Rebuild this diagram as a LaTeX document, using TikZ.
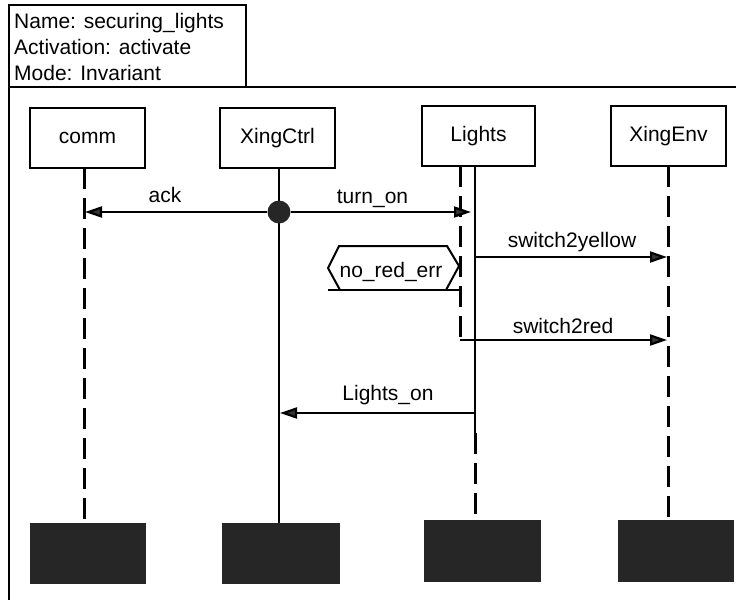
\documentclass[tikz,border=0pt]{standalone}
\usepackage{fontspec}
\setmainfont{Liberation Sans}
\usetikzlibrary{arrows.meta}

\tikzset{
  lifebox/.style={draw, line width=2.5pt, minimum width=115pt, minimum height=60pt, inner sep=0pt},
  endbox/.style={fill=black!85, minimum width=117pt, minimum height=61pt, inner sep=0pt},
  lifedash/.style={line width=3pt, dash pattern=on 21pt off 9pt},
  lifesolid/.style={line width=2.5pt},
  msg/.style={line width=2.2pt, -{Triangle[length=17pt,width=11pt,fill=black!80]}},
  lbl/.style={anchor=base, inner sep=0pt},
}

\begin{document}
\begin{tikzpicture}[x=1pt, y=-1pt, font=\fontsize{21}{26}\selectfont]

\useasboundingbox (0,0) rectangle (736,600);

% Frame and header
\draw[line width=2pt] (9,600) -- (9,5) -- (246,5) -- (246,87);
\draw[line width=2pt] (9,87) -- (736,87);
\node[anchor=base west, inner sep=0pt] (hName) at (14,28) {Name: securing\_lights};
\node[anchor=base west, inner sep=0pt] (hAct) at (14,54) {Activation: activate};
\node[anchor=base west, inner sep=0pt] (hMode) at (14,80) {Mode: Invariant};

% Instance heads
\node[lifebox] (comm) at (87.5,138) {comm};
\node[lifebox] (ctrl) at (277.5,138) {XingCtrl};
\node[lifebox, minimum width=113pt] (lights) at (478.5,136) {Lights};
\node[lifebox] (env) at (668.5,136) {XingEnv};

% Instance ends
\node[endbox, minimum width=116pt] (commEnd) at (88,553.5) {};
\node[endbox, minimum width=118pt] (ctrlEnd) at (281,553.5) {};
\node[endbox, minimum height=62pt] (lightsEnd) at (482.5,551) {};
\node[endbox, minimum width=116pt, minimum height=62pt] (envEnd) at (676,551) {};

% Lifelines
\coordinate (commTop) at (84,168);
\coordinate (commBot) at (84,523);
\coordinate (ctrlTop) at (279,168);
\coordinate (ctrlBot) at (279,523);
\coordinate (lightsA) at (460,166);
\coordinate (lightsCorner) at (460,340);
\coordinate (lightsB) at (475,166);
\coordinate (lightsMid) at (475,433);
\coordinate (lightsBot) at (475,520);
\coordinate (envTop) at (668,166);
\coordinate (envBot) at (668,520);
\draw[lifedash] (commTop) -- (commBot);
\draw[lifesolid] (ctrlTop) -- (ctrlBot);
\draw[lifedash] (lightsA) -- (lightsCorner);
\draw[lifesolid] (lightsB) -- (lightsMid);
\draw[lifedash] (lightsMid) -- (lightsBot);
\draw[lifedash] (envTop) -- (envBot);

% Fork on XingCtrl
\node[circle, fill=black!85, minimum size=23pt, inner sep=0pt] (fork) at (279,212) {};

% Messages
\coordinate (ackEnd) at (85,212);
\coordinate (turnEnd) at (471,212);
\coordinate (yelStart) at (475,257);
\coordinate (yelEnd) at (667,257);
\coordinate (redEnd) at (667,340);
\coordinate (onStart) at (474,413);
\coordinate (onEnd) at (280,413);
\draw[msg] (fork.west) -- (ackEnd);
\draw[msg] (fork.east) -- (turnEnd);
\draw[msg] (yelStart) -- (yelEnd);
\draw[msg] (lightsCorner) -- (redEnd);
\draw[msg] (onStart) -- (onEnd);

\node[lbl] (ack) at (165,202) {ack};
\node[lbl] (turnOn) at (372.5,203) {turn\_on};
\node[lbl] (s2y) at (572,247) {switch2yellow};
\node[lbl] (s2r) at (563,333) {switch2red};
\node[lbl] (lOn) at (388,400) {Lights\_on};

% Condition no_red_err
\draw[line width=2pt] (340,290) -- (328,268) -- (339,246) -- (447,246) -- (459,266) -- (446,290);
\draw[line width=2pt] (328,290) -- (460,290);
\node[lbl] (noRed) at (391,277) {no\_red\_err};

\end{tikzpicture}
\end{document}
